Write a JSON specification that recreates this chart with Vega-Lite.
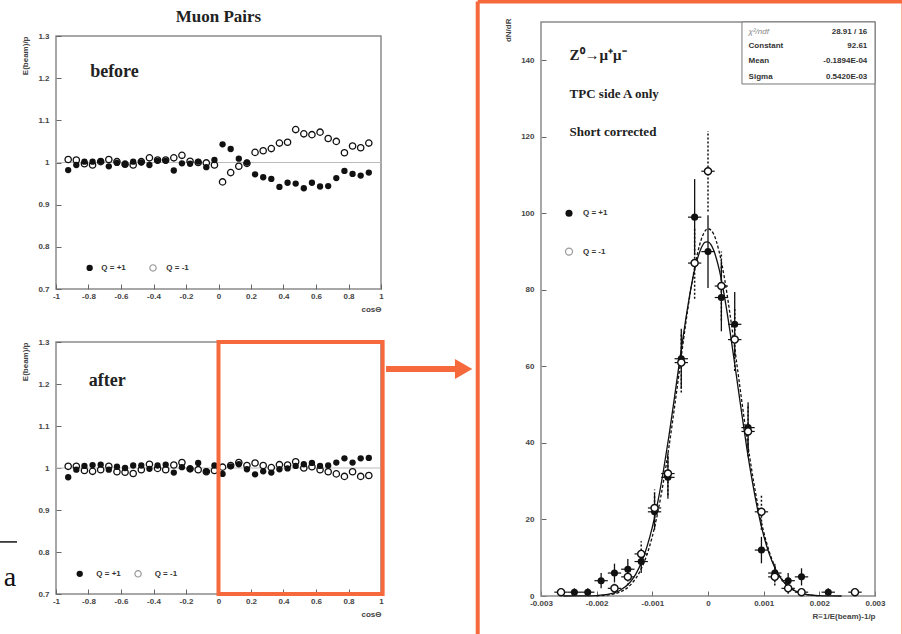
{
  "$schema": "https://vega.github.io/schema/vega-lite/v6.json",
  "background": "white",
  "padding": {"left": -4, "top": -1, "right": 8, "bottom": 0},
  "config": {
    "view": {"stroke": "#8a8a8a", "strokeWidth": 1.5},
    "scale": {"zero": false, "nice": false},
    "axis": {"domain": false, "grid": false, "labelOverlap": false, "labelFlush": false, "labelFont": "Liberation Sans", "labelFontSize": 8, "labelFontWeight": "bold", "labelColor": "#444", "titleFont": "Liberation Sans", "titleFontSize": 8, "titleFontWeight": "bold", "titleColor": "#444", "tickColor": "#666", "tickSize": -5, "labelExpr": "'' + datum.value"},
    "axisX": {"titleAnchor": "end", "titlePadding": 5, "labelPadding": 8},
    "axisY": {"titleAnchor": "end", "titlePadding": 8, "labelPadding": 12}
  },
  "datasets": {
    "before": [
      {"c":-0.925,"p":0.982,"m":1.007},{"c":-0.875,"p":0.994,"m":1.006},{"c":-0.825,"p":1.002,"m":0.997},{"c":-0.775,"p":1.002,"m":0.994},
      {"c":-0.725,"p":1.003,"m":1.002},{"c":-0.675,"p":0.991,"m":1.007},{"c":-0.625,"p":0.999,"m":1.002},{"c":-0.575,"p":0.996,"m":0.996},
      {"c":-0.525,"p":1.002,"m":0.994},{"c":-0.475,"p":1.0,"m":1.002},{"c":-0.425,"p":0.994,"m":1.011},{"c":-0.375,"p":1.004,"m":1.006},
      {"c":-0.325,"p":1.004,"m":1.006},{"c":-0.275,"p":0.981,"m":1.011},{"c":-0.225,"p":0.998,"m":1.017},{"c":-0.175,"p":0.997,"m":1.003},
      {"c":-0.125,"p":1.002,"m":1.0},{"c":-0.075,"p":0.989,"m":0.999},{"c":-0.025,"p":1.006,"m":0.994},{"c":0.025,"p":1.043,"m":0.954},
      {"c":0.075,"p":1.032,"m":0.976},{"c":0.125,"p":1.009,"m":0.991},{"c":0.175,"p":1.0,"m":0.998},{"c":0.225,"p":0.972,"m":1.024},
      {"c":0.275,"p":0.965,"m":1.028},{"c":0.325,"p":0.961,"m":1.033},{"c":0.375,"p":0.942,"m":1.046},{"c":0.425,"p":0.952,"m":1.048},
      {"c":0.475,"p":0.950,"m":1.078},{"c":0.525,"p":0.939,"m":1.068},{"c":0.575,"p":0.952,"m":1.066},{"c":0.625,"p":0.943,"m":1.072},
      {"c":0.675,"p":0.944,"m":1.057},{"c":0.725,"p":0.963,"m":1.050},{"c":0.775,"p":0.980,"m":1.023},{"c":0.825,"p":0.973,"m":1.039},
      {"c":0.875,"p":0.969,"m":1.035},{"c":0.925,"p":0.976,"m":1.046}
    ],
    "after": [
      {"c":-0.925,"p":0.978,"m":1.004},{"c":-0.875,"p":0.996,"m":1.004},{"c":-0.825,"p":1.005,"m":0.994},{"c":-0.775,"p":1.007,"m":0.992},
      {"c":-0.725,"p":1.008,"m":0.996},{"c":-0.675,"p":0.996,"m":1.004},{"c":-0.625,"p":1.003,"m":0.991},{"c":-0.575,"p":1.0,"m":0.990},
      {"c":-0.525,"p":1.006,"m":0.987},{"c":-0.475,"p":1.006,"m":0.996},{"c":-0.425,"p":0.998,"m":1.009},{"c":-0.375,"p":1.006,"m":0.999},
      {"c":-0.325,"p":1.008,"m":0.996},{"c":-0.275,"p":0.989,"m":1.007},{"c":-0.225,"p":1.002,"m":1.013},{"c":-0.175,"p":0.998,"m":0.998},
      {"c":-0.125,"p":1.012,"m":0.996},{"c":-0.075,"p":0.992,"m":0.991},{"c":-0.025,"p":1.006,"m":0.994},{"c":0.025,"p":0.986,"m":1.002},
      {"c":0.075,"p":1.004,"m":1.006},{"c":0.125,"p":1.009,"m":1.013},{"c":0.175,"p":0.997,"m":1.006},{"c":0.225,"p":0.985,"m":1.012},
      {"c":0.275,"p":0.992,"m":1.006},{"c":0.325,"p":0.989,"m":1.001},{"c":0.375,"p":0.997,"m":1.008},{"c":0.425,"p":0.999,"m":1.007},
      {"c":0.475,"p":1.005,"m":1.015},{"c":0.525,"p":1.009,"m":1.0},{"c":0.575,"p":1.012,"m":1.003},{"c":0.625,"p":1.005,"m":0.996},
      {"c":0.675,"p":1.006,"m":0.991},{"c":0.725,"p":1.013,"m":0.986},{"c":0.775,"p":1.023,"m":0.980},{"c":0.825,"p":1.013,"m":0.991},
      {"c":0.875,"p":1.023,"m":0.980},{"c":0.925,"p":1.024,"m":0.982}
    ],
    "histP": [
      {"x":-0.0024,"xlo":-0.00252,"xhi":-0.00228,"n":1,"lo":0,"hi":2},
      {"x":-0.00216,"xlo":-0.00228,"xhi":-0.00204,"n":1,"lo":0,"hi":2},
      {"x":-0.00192,"xlo":-0.00204,"xhi":-0.0018,"n":4,"lo":2,"hi":6},
      {"x":-0.00168,"xlo":-0.0018,"xhi":-0.00156,"n":6,"lo":3.55,"hi":8.45},
      {"x":-0.00144,"xlo":-0.00156,"xhi":-0.00132,"n":7,"lo":4.35,"hi":9.65},
      {"x":-0.0012,"xlo":-0.00132,"xhi":-0.00108,"n":9,"lo":6,"hi":12},
      {"x":-0.00096,"xlo":-0.00108,"xhi":-0.00084,"n":22,"lo":17.31,"hi":26.69},
      {"x":-0.00072,"xlo":-0.00084,"xhi":-0.0006,"n":31,"lo":25.43,"hi":36.57},
      {"x":-0.00048,"xlo":-0.0006,"xhi":-0.00036,"n":62,"lo":54.13,"hi":69.87},
      {"x":-0.00024,"xlo":-0.00036,"xhi":-0.00012,"n":99,"lo":89.05,"hi":108.95},
      {"x":0,"xlo":-0.00012,"xhi":0.00012,"n":90,"lo":80.51,"hi":99.49},
      {"x":0.00024,"xlo":0.00012,"xhi":0.00036,"n":78,"lo":69.17,"hi":86.83},
      {"x":0.00048,"xlo":0.00036,"xhi":0.0006,"n":71,"lo":62.57,"hi":79.43},
      {"x":0.00072,"xlo":0.0006,"xhi":0.00084,"n":44,"lo":37.37,"hi":50.63},
      {"x":0.00096,"xlo":0.00084,"xhi":0.00108,"n":12,"lo":8.54,"hi":15.46},
      {"x":0.0012,"xlo":0.00108,"xhi":0.00132,"n":6,"lo":3.55,"hi":8.45},
      {"x":0.00144,"xlo":0.00132,"xhi":0.00156,"n":4,"lo":2,"hi":6},
      {"x":0.00168,"xlo":0.00156,"xhi":0.0018,"n":5,"lo":2.76,"hi":7.24},
      {"x":0.00216,"xlo":0.00204,"xhi":0.00228,"n":1,"lo":0,"hi":2}
    ],
    "histM": [
      {"x":-0.00264,"xlo":-0.00276,"xhi":-0.00252,"n":1,"lo":0,"hi":2},
      {"x":-0.00168,"xlo":-0.0018,"xhi":-0.00156,"n":2,"lo":0.59,"hi":3.41},
      {"x":-0.00144,"xlo":-0.00156,"xhi":-0.00132,"n":5,"lo":2.76,"hi":7.24},
      {"x":-0.0012,"xlo":-0.00132,"xhi":-0.00108,"n":11,"lo":7.68,"hi":14.32},
      {"x":-0.00096,"xlo":-0.00108,"xhi":-0.00084,"n":23,"lo":18.2,"hi":27.8},
      {"x":-0.00072,"xlo":-0.00084,"xhi":-0.0006,"n":32,"lo":26.34,"hi":37.66},
      {"x":-0.00048,"xlo":-0.0006,"xhi":-0.00036,"n":61,"lo":53.19,"hi":68.81},
      {"x":-0.00024,"xlo":-0.00036,"xhi":-0.00012,"n":87,"lo":77.67,"hi":96.33},
      {"x":0,"xlo":-0.00012,"xhi":0.00012,"n":111,"lo":100.46,"hi":121.54},
      {"x":0.00024,"xlo":0.00012,"xhi":0.00036,"n":81,"lo":72,"hi":90},
      {"x":0.00048,"xlo":0.00036,"xhi":0.0006,"n":67,"lo":58.81,"hi":75.19},
      {"x":0.00072,"xlo":0.0006,"xhi":0.00084,"n":43,"lo":36.44,"hi":49.56},
      {"x":0.00096,"xlo":0.00084,"xhi":0.00108,"n":22,"lo":17.31,"hi":26.69},
      {"x":0.0012,"xlo":0.00108,"xhi":0.00132,"n":5,"lo":2.76,"hi":7.24},
      {"x":0.00144,"xlo":0.00132,"xhi":0.00156,"n":2,"lo":0.59,"hi":3.41},
      {"x":0.00168,"xlo":0.00156,"xhi":0.0018,"n":1,"lo":0,"hi":2},
      {"x":0.00264,"xlo":0.00252,"xhi":0.00276,"n":1,"lo":0,"hi":2}
    ],
    "fitP": [
      {"x":-0.0026,"y":0},{"x":-0.0024,"y":0.01},{"x":-0.0022,"y":0.03},{"x":-0.002,"y":0.12},{"x":-0.0018,"y":0.42},
      {"x":-0.0016,"y":1.31},{"x":-0.0014,"y":3.6},{"x":-0.0013,"y":5.67},{"x":-0.0012,"y":8.62},{"x":-0.0011,"y":12.7},
      {"x":-0.001,"y":18.0},{"x":-0.0009,"y":24.7},{"x":-0.0008,"y":32.8},{"x":-0.0007,"y":42.0},{"x":-0.0006,"y":52.1},
      {"x":-0.0005,"y":62.5},{"x":-0.0004,"y":72.3},{"x":-0.0003,"y":81.0},{"x":-0.0002,"y":87.6},{"x":-0.00015,"y":89.9},
      {"x":-0.0001,"y":91.6},{"x":-0.00005,"y":92.46},{"x":0,"y":92.55},{"x":0.00005,"y":91.86},{"x":0.0001,"y":90.4},
      {"x":0.00015,"y":88.2},{"x":0.0002,"y":85.4},{"x":0.0003,"y":77.9},{"x":0.0004,"y":68.7},{"x":0.0005,"y":58.6},
      {"x":0.0006,"y":48.3},{"x":0.0007,"y":38.4},{"x":0.0008,"y":29.6},{"x":0.0009,"y":22.0},{"x":0.001,"y":15.8},
      {"x":0.0011,"y":11.0},{"x":0.0012,"y":7.39},{"x":0.0013,"y":4.8},{"x":0.0014,"y":3.01},{"x":0.0016,"y":1.07},
      {"x":0.0018,"y":0.33},{"x":0.002,"y":0.09},{"x":0.0022,"y":0.02},{"x":0.0024,"y":0}
    ],
    "fitM": [
      {"x":-0.002,"y":0.07},{"x":-0.0018,"y":0.28},{"x":-0.0016,"y":0.95},{"x":-0.0014,"y":2.79},{"x":-0.0012,"y":7.09},
      {"x":-0.0011,"y":10.7},{"x":-0.001,"y":15.6},{"x":-0.0009,"y":22.0},{"x":-0.0008,"y":29.9},{"x":-0.0007,"y":39.1},
      {"x":-0.0006,"y":49.5},{"x":-0.0005,"y":60.4},{"x":-0.0004,"y":71.2},{"x":-0.0003,"y":80.9},{"x":-0.0002,"y":88.8},
      {"x":-0.0001,"y":94.0},{"x":0,"y":95.98},{"x":0.0001,"y":94.6},{"x":0.0002,"y":90.0},{"x":0.0003,"y":82.7},
      {"x":0.0004,"y":73.2},{"x":0.0005,"y":62.6},{"x":0.0006,"y":51.7},{"x":0.0007,"y":41.1},{"x":0.0008,"y":31.6},
      {"x":0.0009,"y":23.4},{"x":0.001,"y":16.8},{"x":0.0011,"y":11.6},{"x":0.0012,"y":7.72},{"x":0.0014,"y":3.08},
      {"x":0.0016,"y":1.07},{"x":0.0018,"y":0.32},{"x":0.002,"y":0.08}
    ]
  },
  "spacing": -3,
  "hconcat": [
    {
      "spacing": 23,
      "vconcat": [
        {
          "width": 325, "height": 253,
          "layer": [
            {"data": {"values": [{}]}, "mark": {"type": "rule", "color": "#bbb", "strokeWidth": 1}, "encoding": {"y": {"datum": 1, "type": "quantitative", "title": "E(beam)/p", "scale": {"domain": [0.7, 1.3]}}}},
            {"data": {"name": "before"}, "mark": {"type": "point", "shape": "circle", "filled": true, "fill": "white", "stroke": "#111", "strokeWidth": 1.3, "size": 40, "opacity": 1},
             "encoding": {"x": {"field": "c", "type": "quantitative", "title": "cosΘ", "scale": {"domain": [-1, 1]}, "axis": {"values": [-1,-0.8,-0.6,-0.4,-0.2,0,0.2,0.4,0.6,0.8,1], "tickCount": 40}},
                          "y": {"field": "m", "type": "quantitative", "title": "E(beam)/p", "scale": {"domain": [0.7, 1.3]}, "axis": {"values": [0.7,0.8,0.9,1,1.1,1.2,1.3], "tickCount": 40}}}},
            {"data": {"name": "before"}, "mark": {"type": "circle", "color": "#111", "size": 40, "opacity": 1},
             "encoding": {"x": {"field": "c", "type": "quantitative", "title": "cosΘ", "scale": {"domain": [-1, 1]}}, "y": {"field": "p", "type": "quantitative", "title": "E(beam)/p", "scale": {"domain": [0.7, 1.3]}}}},
            {"data": {"values": [{}]}, "mark": {"type": "text", "text": "Muon Pairs", "font": "Liberation Serif", "fontSize": 17, "fontWeight": "bold", "align": "center", "baseline": "alphabetic", "color": "#222"},
             "encoding": {"x": {"datum": 0, "type": "quantitative", "title": "cosΘ", "scale": {"domain": [-1, 1]}}, "y": {"datum": 1.3332, "type": "quantitative", "title": "E(beam)/p", "scale": {"domain": [0.7, 1.3]}}}},
            {"data": {"values": [{}]}, "mark": {"type": "text", "text": "before", "font": "Liberation Serif", "fontSize": 18, "fontWeight": "bold", "align": "left", "baseline": "middle", "color": "#222"},
             "encoding": {"x": {"datum": -0.79, "type": "quantitative", "title": "cosΘ", "scale": {"domain": [-1, 1]}}, "y": {"datum": 1.215, "type": "quantitative", "title": "E(beam)/p", "scale": {"domain": [0.7, 1.3]}}}},
            {"data": {"values": [{}]}, "mark": {"type": "circle", "color": "#111", "size": 40, "opacity": 1},
             "encoding": {"x": {"datum": -0.793, "type": "quantitative", "title": "cosΘ", "scale": {"domain": [-1, 1]}}, "y": {"datum": 0.75, "type": "quantitative", "title": "E(beam)/p", "scale": {"domain": [0.7, 1.3]}}}},
            {"data": {"values": [{}]}, "mark": {"type": "point", "shape": "circle", "filled": true, "fill": "white", "stroke": "#999", "strokeWidth": 1.2, "size": 40, "opacity": 1},
             "encoding": {"x": {"datum": -0.403, "type": "quantitative", "title": "cosΘ", "scale": {"domain": [-1, 1]}}, "y": {"datum": 0.75, "type": "quantitative", "title": "E(beam)/p", "scale": {"domain": [0.7, 1.3]}}}},
            {"data": {"values": [{}]}, "mark": {"type": "text", "text": "Q = +1", "font": "Liberation Sans", "fontSize": 8, "fontWeight": "bold", "align": "left", "baseline": "middle", "color": "#333"},
             "encoding": {"x": {"datum": -0.721, "type": "quantitative", "title": "cosΘ", "scale": {"domain": [-1, 1]}}, "y": {"datum": 0.75, "type": "quantitative", "title": "E(beam)/p", "scale": {"domain": [0.7, 1.3]}}}},
            {"data": {"values": [{}]}, "mark": {"type": "text", "text": "Q = -1", "font": "Liberation Sans", "fontSize": 8, "fontWeight": "bold", "align": "left", "baseline": "middle", "color": "#333"},
             "encoding": {"x": {"datum": -0.321, "type": "quantitative", "title": "cosΘ", "scale": {"domain": [-1, 1]}}, "y": {"datum": 0.75, "type": "quantitative", "title": "E(beam)/p", "scale": {"domain": [0.7, 1.3]}}}}
          ]
        },
        {
          "width": 325, "height": 252,
          "layer": [
            {"data": {"values": [{}]}, "mark": {"type": "rule", "color": "#bbb", "strokeWidth": 1}, "encoding": {"y": {"datum": 1, "type": "quantitative", "title": "E(beam)/p", "scale": {"domain": [0.7, 1.3]}}}},
            {"data": {"name": "after"}, "mark": {"type": "point", "shape": "circle", "filled": true, "fill": "white", "stroke": "#111", "strokeWidth": 1.3, "size": 40, "opacity": 1},
             "encoding": {"x": {"field": "c", "type": "quantitative", "title": "cosΘ", "scale": {"domain": [-1, 1]}, "axis": {"values": [-1,-0.8,-0.6,-0.4,-0.2,0,0.2,0.4,0.6,0.8,1], "tickCount": 40}},
                          "y": {"field": "m", "type": "quantitative", "title": "E(beam)/p", "scale": {"domain": [0.7, 1.3]}, "axis": {"values": [0.7,0.8,0.9,1,1.1,1.2,1.3], "tickCount": 40}}}},
            {"data": {"name": "after"}, "mark": {"type": "circle", "color": "#111", "size": 40, "opacity": 1},
             "encoding": {"x": {"field": "c", "type": "quantitative", "title": "cosΘ", "scale": {"domain": [-1, 1]}}, "y": {"field": "p", "type": "quantitative", "title": "E(beam)/p", "scale": {"domain": [0.7, 1.3]}}}},
            {"data": {"values": [{}]}, "mark": {"type": "text", "text": "after", "font": "Liberation Serif", "fontSize": 18, "fontWeight": "bold", "align": "left", "baseline": "middle", "color": "#222"},
             "encoding": {"x": {"datum": -0.799, "type": "quantitative", "title": "cosΘ", "scale": {"domain": [-1, 1]}}, "y": {"datum": 1.208, "type": "quantitative", "title": "E(beam)/p", "scale": {"domain": [0.7, 1.3]}}}},
            {"data": {"values": [{}]}, "mark": {"type": "circle", "color": "#111", "size": 40, "opacity": 1},
             "encoding": {"x": {"datum": -0.854, "type": "quantitative", "title": "cosΘ", "scale": {"domain": [-1, 1]}}, "y": {"datum": 0.748, "type": "quantitative", "title": "E(beam)/p", "scale": {"domain": [0.7, 1.3]}}}},
            {"data": {"values": [{}]}, "mark": {"type": "point", "shape": "circle", "filled": true, "fill": "white", "stroke": "#999", "strokeWidth": 1.2, "size": 40, "opacity": 1},
             "encoding": {"x": {"datum": -0.495, "type": "quantitative", "title": "cosΘ", "scale": {"domain": [-1, 1]}}, "y": {"datum": 0.748, "type": "quantitative", "title": "E(beam)/p", "scale": {"domain": [0.7, 1.3]}}}},
            {"data": {"values": [{}]}, "mark": {"type": "text", "text": "Q = +1", "font": "Liberation Sans", "fontSize": 8, "fontWeight": "bold", "align": "left", "baseline": "middle", "color": "#333"},
             "encoding": {"x": {"datum": -0.752, "type": "quantitative", "title": "cosΘ", "scale": {"domain": [-1, 1]}}, "y": {"datum": 0.748, "type": "quantitative", "title": "E(beam)/p", "scale": {"domain": [0.7, 1.3]}}}},
            {"data": {"values": [{}]}, "mark": {"type": "text", "text": "Q = -1", "font": "Liberation Sans", "fontSize": 8, "fontWeight": "bold", "align": "left", "baseline": "middle", "color": "#333"},
             "encoding": {"x": {"datum": -0.393, "type": "quantitative", "title": "cosΘ", "scale": {"domain": [-1, 1]}}, "y": {"datum": 0.748, "type": "quantitative", "title": "E(beam)/p", "scale": {"domain": [0.7, 1.3]}}}},
            {"data": {"values": [{}]}, "mark": {"type": "rect", "fill": "white", "fillOpacity": 0, "stroke": "#f5693c", "strokeWidth": 4},
             "encoding": {"x": {"datum": 0, "type": "quantitative", "title": "cosΘ", "scale": {"domain": [-1, 1]}}, "x2": {"datum": 1.01}, "y": {"datum": 0.7, "type": "quantitative", "title": "E(beam)/p", "scale": {"domain": [0.7, 1.3]}}, "y2": {"datum": 1.3}}},
            {"data": {"values": [{}]}, "mark": {"type": "rule", "color": "#111", "strokeWidth": 1.5},
             "encoding": {"x": {"datum": -1.357, "type": "quantitative", "title": "cosΘ", "scale": {"domain": [-1, 1]}}, "x2": {"datum": -1.24}, "y": {"datum": 0.824, "type": "quantitative", "title": "E(beam)/p", "scale": {"domain": [0.7, 1.3]}}}},
            {"data": {"values": [{}]}, "mark": {"type": "text", "text": "a", "font": "Liberation Serif", "fontSize": 28, "align": "center", "baseline": "alphabetic", "color": "#111"},
             "encoding": {"x": {"datum": -1.283, "type": "quantitative", "title": "cosΘ", "scale": {"domain": [-1, 1]}}, "y": {"datum": 0.72, "type": "quantitative", "title": "E(beam)/p", "scale": {"domain": [0.7, 1.3]}}}}
          ]
        }
      ]
    },
    {
      "width": 334, "height": 560,
      "view": {"stroke": null},
      "layer": [
        {"data": {"values": [{}]}, "mark": {"type": "rect", "fill": "white", "fillOpacity": 0, "stroke": "#8a8a8a", "strokeWidth": 1.5},
         "encoding": {"x": {"datum": -0.003, "type": "quantitative", "title": "R≡1/E(beam)-1/p", "scale": {"domain": [-0.003, 0.003]}}, "x2": {"datum": 0.003}, "y": {"datum": 0, "type": "quantitative", "title": "dN/dR", "scale": {"domain": [0, 146.34]}}, "y2": {"datum": 150}}},
        {"data": {"values": [{}]}, "mark": {"type": "rule", "color": "#f5693c", "strokeWidth": 6},
         "encoding": {"x": {"datum": -0.005784, "type": "quantitative", "title": "R≡1/E(beam)-1/p", "scale": {"domain": [-0.003, 0.003]}}, "x2": {"datum": -0.004515}, "y": {"datum": 59.32, "type": "quantitative", "title": "dN/dR", "scale": {"domain": [0, 146.34]}}}},
        {"data": {"values": [{}]}, "mark": {"type": "point", "shape": "triangle-right", "filled": true, "color": "#f5693c", "size": 400, "opacity": 1},
         "encoding": {"x": {"datum": -0.00439, "type": "quantitative", "title": "R≡1/E(beam)-1/p", "scale": {"domain": [-0.003, 0.003]}}, "y": {"datum": 59.32, "type": "quantitative", "title": "dN/dR", "scale": {"domain": [0, 146.34]}}}},
        {"data": {"values": [{}]}, "mark": {"type": "rule", "color": "#f5693c", "strokeWidth": 4},
         "encoding": {"x": {"datum": -0.004137, "type": "quantitative", "title": "R≡1/E(beam)-1/p", "scale": {"domain": [-0.003, 0.003]}}, "y": {"datum": 155.36, "type": "quantitative", "title": "dN/dR", "scale": {"domain": [0, 146.34]}}, "y2": {"datum": -10}}},
        {"data": {"values": [{}]}, "mark": {"type": "rule", "color": "#f5693c", "strokeWidth": 4},
         "encoding": {"x": {"datum": -0.004137, "type": "quantitative", "title": "R≡1/E(beam)-1/p", "scale": {"domain": [-0.003, 0.003]}}, "x2": {"datum": 0.003512}, "y": {"datum": 155.36, "type": "quantitative", "title": "dN/dR", "scale": {"domain": [0, 146.34]}}}},
        {"data": {"values": [{}]}, "mark": {"type": "rule", "color": "#f5693c", "strokeWidth": 4},
         "encoding": {"x": {"datum": 0.003512, "type": "quantitative", "title": "R≡1/E(beam)-1/p", "scale": {"domain": [-0.003, 0.003]}}, "y": {"datum": 155.36, "type": "quantitative", "title": "dN/dR", "scale": {"domain": [0, 146.34]}}, "y2": {"datum": -10}}},
        {"data": {"values": [{}]}, "mark": {"type": "rect", "fill": "white", "stroke": "#777", "strokeWidth": 1},
         "encoding": {"x": {"datum": 0.00061, "type": "quantitative", "title": "R≡1/E(beam)-1/p", "scale": {"domain": [-0.003, 0.003]}}, "x2": {"datum": 0.003}, "y": {"datum": 133.8, "type": "quantitative", "title": "dN/dR", "scale": {"domain": [0, 146.34]}}, "y2": {"datum": 150}}},
        {"data": {"name": "fitP"}, "mark": {"type": "line", "color": "#111", "strokeWidth": 1.3, "interpolate": "monotone"},
         "encoding": {"x": {"field": "x", "type": "quantitative", "title": "R≡1/E(beam)-1/p", "scale": {"domain": [-0.003, 0.003]}, "axis": {"values": [-0.003,-0.002,-0.001,0,0.001,0.002,0.003], "tickCount": 40}},
                      "y": {"field": "y", "type": "quantitative", "title": "dN/dR", "scale": {"domain": [0, 146.34]}, "axis": {"values": [0,20,40,60,80,100,120,140], "tickCount": 40, "titleY": -18}}}},
        {"data": {"name": "fitM"}, "mark": {"type": "line", "color": "#111", "strokeWidth": 1.3, "strokeDash": [3, 2], "interpolate": "monotone"},
         "encoding": {"x": {"field": "x", "type": "quantitative", "title": "R≡1/E(beam)-1/p", "scale": {"domain": [-0.003, 0.003]}}, "y": {"field": "y", "type": "quantitative", "title": "dN/dR", "scale": {"domain": [0, 146.34]}}}},
        {"data": {"name": "histM"}, "mark": {"type": "rule", "color": "#111", "strokeWidth": 1.5, "strokeDash": [2, 2]},
         "encoding": {"x": {"field": "x", "type": "quantitative", "title": "R≡1/E(beam)-1/p", "scale": {"domain": [-0.003, 0.003]}}, "y": {"field": "lo", "type": "quantitative", "title": "dN/dR", "scale": {"domain": [0, 146.34]}}, "y2": {"field": "hi"}}},
        {"data": {"name": "histM"}, "mark": {"type": "rule", "color": "#111", "strokeWidth": 1.2},
         "encoding": {"x": {"field": "xlo", "type": "quantitative", "title": "R≡1/E(beam)-1/p", "scale": {"domain": [-0.003, 0.003]}}, "x2": {"field": "xhi"}, "y": {"field": "n", "type": "quantitative", "title": "dN/dR", "scale": {"domain": [0, 146.34]}}}},
        {"data": {"name": "histP"}, "mark": {"type": "rule", "color": "#111", "strokeWidth": 1.3},
         "encoding": {"x": {"field": "x", "type": "quantitative", "title": "R≡1/E(beam)-1/p", "scale": {"domain": [-0.003, 0.003]}}, "y": {"field": "lo", "type": "quantitative", "title": "dN/dR", "scale": {"domain": [0, 146.34]}}, "y2": {"field": "hi"}}},
        {"data": {"name": "histP"}, "mark": {"type": "rule", "color": "#111", "strokeWidth": 1.2},
         "encoding": {"x": {"field": "xlo", "type": "quantitative", "title": "R≡1/E(beam)-1/p", "scale": {"domain": [-0.003, 0.003]}}, "x2": {"field": "xhi"}, "y": {"field": "n", "type": "quantitative", "title": "dN/dR", "scale": {"domain": [0, 146.34]}}}},
        {"data": {"name": "histP"}, "mark": {"type": "circle", "color": "#111", "size": 50, "opacity": 1},
         "encoding": {"x": {"field": "x", "type": "quantitative", "title": "R≡1/E(beam)-1/p", "scale": {"domain": [-0.003, 0.003]}}, "y": {"field": "n", "type": "quantitative", "title": "dN/dR", "scale": {"domain": [0, 146.34]}}}},
        {"data": {"name": "histM"}, "mark": {"type": "point", "shape": "circle", "filled": true, "fill": "white", "stroke": "#111", "strokeWidth": 1.4, "size": 50, "opacity": 1},
         "encoding": {"x": {"field": "x", "type": "quantitative", "title": "R≡1/E(beam)-1/p", "scale": {"domain": [-0.003, 0.003]}}, "y": {"field": "n", "type": "quantitative", "title": "dN/dR", "scale": {"domain": [0, 146.34]}}}},
        {"data": {"values": [{}]}, "mark": {"type": "text", "text": "Z⁰→μ⁺μ⁻", "font": "Liberation Serif", "fontSize": 15, "fontWeight": "bold", "align": "left", "baseline": "middle", "color": "#222"},
         "encoding": {"x": {"datum": -0.002486, "type": "quantitative", "title": "R≡1/E(beam)-1/p", "scale": {"domain": [-0.003, 0.003]}}, "y": {"datum": 141.4, "type": "quantitative", "title": "dN/dR", "scale": {"domain": [0, 146.34]}}}},
        {"data": {"values": [{}]}, "mark": {"type": "text", "text": "TPC side A only", "font": "Liberation Serif", "fontSize": 13, "fontWeight": "bold", "align": "left", "baseline": "middle", "color": "#222"},
         "encoding": {"x": {"datum": -0.002486, "type": "quantitative", "title": "R≡1/E(beam)-1/p", "scale": {"domain": [-0.003, 0.003]}}, "y": {"datum": 131.1, "type": "quantitative", "title": "dN/dR", "scale": {"domain": [0, 146.34]}}}},
        {"data": {"values": [{}]}, "mark": {"type": "text", "text": "Short corrected", "font": "Liberation Serif", "fontSize": 13, "fontWeight": "bold", "align": "left", "baseline": "middle", "color": "#222"},
         "encoding": {"x": {"datum": -0.002486, "type": "quantitative", "title": "R≡1/E(beam)-1/p", "scale": {"domain": [-0.003, 0.003]}}, "y": {"datum": 121.3, "type": "quantitative", "title": "dN/dR", "scale": {"domain": [0, 146.34]}}}},
        {"data": {"values": [{}]}, "mark": {"type": "circle", "color": "#111", "size": 50, "opacity": 1},
         "encoding": {"x": {"datum": -0.002497, "type": "quantitative", "title": "R≡1/E(beam)-1/p", "scale": {"domain": [-0.003, 0.003]}}, "y": {"datum": 100, "type": "quantitative", "title": "dN/dR", "scale": {"domain": [0, 146.34]}}}},
        {"data": {"values": [{}]}, "mark": {"type": "point", "shape": "circle", "filled": true, "fill": "white", "stroke": "#999", "strokeWidth": 1.2, "size": 50, "opacity": 1},
         "encoding": {"x": {"datum": -0.002497, "type": "quantitative", "title": "R≡1/E(beam)-1/p", "scale": {"domain": [-0.003, 0.003]}}, "y": {"datum": 90, "type": "quantitative", "title": "dN/dR", "scale": {"domain": [0, 146.34]}}}},
        {"data": {"values": [{}]}, "mark": {"type": "text", "text": "Q = +1", "font": "Liberation Sans", "fontSize": 8, "fontWeight": "bold", "align": "left", "baseline": "middle", "color": "#333"},
         "encoding": {"x": {"datum": -0.002245, "type": "quantitative", "title": "R≡1/E(beam)-1/p", "scale": {"domain": [-0.003, 0.003]}}, "y": {"datum": 100, "type": "quantitative", "title": "dN/dR", "scale": {"domain": [0, 146.34]}}}},
        {"data": {"values": [{}]}, "mark": {"type": "text", "text": "Q = -1", "font": "Liberation Sans", "fontSize": 8, "fontWeight": "bold", "align": "left", "baseline": "middle", "color": "#333"},
         "encoding": {"x": {"datum": -0.002245, "type": "quantitative", "title": "R≡1/E(beam)-1/p", "scale": {"domain": [-0.003, 0.003]}}, "y": {"datum": 90, "type": "quantitative", "title": "dN/dR", "scale": {"domain": [0, 146.34]}}}},
        {"data": {"values": [{}]}, "mark": {"type": "text", "text": "χ²/ndf", "font": "Liberation Sans", "fontSize": 8, "align": "left", "baseline": "middle", "color": "#888", "fontStyle": "italic"},
         "encoding": {"x": {"datum": 0.000729, "type": "quantitative", "title": "R≡1/E(beam)-1/p", "scale": {"domain": [-0.003, 0.003]}}, "y": {"datum": 147.5, "type": "quantitative", "title": "dN/dR", "scale": {"domain": [0, 146.34]}}}},
        {"data": {"values": [{}]}, "mark": {"type": "text", "text": "Constant", "font": "Liberation Sans", "fontSize": 8, "fontWeight": "bold", "align": "left", "baseline": "middle", "color": "#333"},
         "encoding": {"x": {"datum": 0.000729, "type": "quantitative", "title": "R≡1/E(beam)-1/p", "scale": {"domain": [-0.003, 0.003]}}, "y": {"datum": 143.6, "type": "quantitative", "title": "dN/dR", "scale": {"domain": [0, 146.34]}}}},
        {"data": {"values": [{}]}, "mark": {"type": "text", "text": "Mean", "font": "Liberation Sans", "fontSize": 8, "fontWeight": "bold", "align": "left", "baseline": "middle", "color": "#333"},
         "encoding": {"x": {"datum": 0.000729, "type": "quantitative", "title": "R≡1/E(beam)-1/p", "scale": {"domain": [-0.003, 0.003]}}, "y": {"datum": 139.7, "type": "quantitative", "title": "dN/dR", "scale": {"domain": [0, 146.34]}}}},
        {"data": {"values": [{}]}, "mark": {"type": "text", "text": "Sigma", "font": "Liberation Sans", "fontSize": 8, "fontWeight": "bold", "align": "left", "baseline": "middle", "color": "#333"},
         "encoding": {"x": {"datum": 0.000729, "type": "quantitative", "title": "R≡1/E(beam)-1/p", "scale": {"domain": [-0.003, 0.003]}}, "y": {"datum": 135.7, "type": "quantitative", "title": "dN/dR", "scale": {"domain": [0, 146.34]}}}},
        {"data": {"values": [{}]}, "mark": {"type": "text", "text": "28.91   /   16", "font": "Liberation Sans", "fontSize": 8, "fontWeight": "bold", "align": "right", "baseline": "middle", "color": "#333"},
         "encoding": {"x": {"datum": 0.002862, "type": "quantitative", "title": "R≡1/E(beam)-1/p", "scale": {"domain": [-0.003, 0.003]}}, "y": {"datum": 147.5, "type": "quantitative", "title": "dN/dR", "scale": {"domain": [0, 146.34]}}}},
        {"data": {"values": [{}]}, "mark": {"type": "text", "text": "92.61", "font": "Liberation Sans", "fontSize": 8, "fontWeight": "bold", "align": "right", "baseline": "middle", "color": "#333"},
         "encoding": {"x": {"datum": 0.002862, "type": "quantitative", "title": "R≡1/E(beam)-1/p", "scale": {"domain": [-0.003, 0.003]}}, "y": {"datum": 143.6, "type": "quantitative", "title": "dN/dR", "scale": {"domain": [0, 146.34]}}}},
        {"data": {"values": [{}]}, "mark": {"type": "text", "text": "-0.1894E-04", "font": "Liberation Sans", "fontSize": 8, "fontWeight": "bold", "align": "right", "baseline": "middle", "color": "#333"},
         "encoding": {"x": {"datum": 0.002862, "type": "quantitative", "title": "R≡1/E(beam)-1/p", "scale": {"domain": [-0.003, 0.003]}}, "y": {"datum": 139.7, "type": "quantitative", "title": "dN/dR", "scale": {"domain": [0, 146.34]}}}},
        {"data": {"values": [{}]}, "mark": {"type": "text", "text": "0.5420E-03", "font": "Liberation Sans", "fontSize": 8, "fontWeight": "bold", "align": "right", "baseline": "middle", "color": "#333"},
         "encoding": {"x": {"datum": 0.002862, "type": "quantitative", "title": "R≡1/E(beam)-1/p", "scale": {"domain": [-0.003, 0.003]}}, "y": {"datum": 135.7, "type": "quantitative", "title": "dN/dR", "scale": {"domain": [0, 146.34]}}}}
      ]
    }
  ]
}
